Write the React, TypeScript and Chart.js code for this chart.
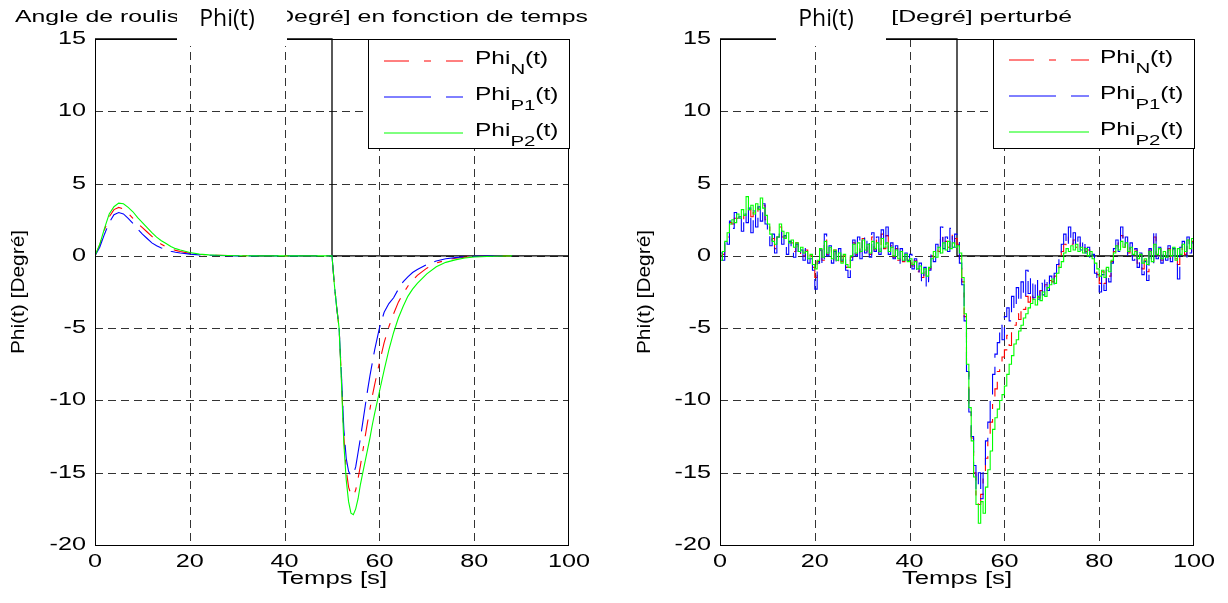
import React, { useEffect, useRef } from "react";
import { Chart, registerables } from "chart.js";

Chart.register(...registerables);

// ---------- DATA ----------
const X_TICKS = [0, 20, 40, 60, 80, 100];
const Y_TICKS = [-20, -15, -10, -5, 0, 5, 10, 15];
const SUBSCRIPTS = ["N", "P1", "P2"];
const X_LABEL = "Temps [s]";
const Y_LABEL = "Phi(t) [Degré]";
const COVER_LABEL = "Phi(t)";
const LEFT_TITLE = ["Angle de roulis Phi(t)", "[Degré] en fonction de temps"];
const RIGHT_TITLE = ["Phi(t) [Degré] perturbé"];

// reference step signal (black)
const REF_T = [0, 50, 50, 100];
const REF_PHI = [15, 15, 0, 0];

// left plot: nominal / perturbed responses
const T_LEFT = [0, 1, 2, 3, 4, 5, 6, 7, 8, 9, 10, 11, 12, 13, 14, 15, 16, 17, 18,
  20, 22, 24, 26, 28, 30, 35, 40, 45, 50,
  50.5, 51, 51.5, 52, 52.5, 53, 53.5, 54, 54.5, 55, 55.5, 56, 56.5, 57, 57.5, 58, 58.5, 59,
  60, 61, 62, 63, 64, 65, 66, 67, 68, 70, 72, 74, 76, 78, 80, 84, 88];
const PHI_N_LEFT = [0, 0.75, 1.8, 2.7, 3.2, 3.35, 3.25, 2.95, 2.6, 2.25, 1.95, 1.65, 1.35, 1.05, 0.8, 0.62, 0.48, 0.38, 0.3,
  0.17, 0.1, 0.06, 0.04, 0.02, 0.01, 0, 0, 0, 0,
  -2.0, -3.6, -5.0, -8.5, -12.5, -14.8, -16.0, -16.5, -16.6, -16.2, -15.4, -14.5, -13.5, -12.5, -11.5, -10.6, -9.7, -8.9,
  -7.4, -6.0, -4.9, -4.0, -3.2, -2.6, -2.1, -1.7, -1.35, -0.85, -0.5, -0.3, -0.17, -0.1, -0.05, -0.02, 0];
const PHI_P1_LEFT = [0, 0.6, 1.5, 2.3, 2.85, 3.0, 2.9, 2.6, 2.25, 1.85, 1.5, 1.2, 0.9, 0.7, 0.55, 0.42, 0.32, 0.25, 0.2,
  0.12, 0.07, 0.04, 0.02, 0.01, 0, 0, 0, 0, 0,
  -2.0, -3.6, -5.0, -8.3, -12.0, -14.0, -14.9, -15.2, -15.1, -14.6, -13.6, -12.6, -11.5, -10.4, -9.3, -8.3, -7.4, -6.5,
  -5.0, -3.9, -3.3, -2.9, -2.3, -1.8, -1.45, -1.15, -0.95, -0.6, -0.35, -0.2, -0.12, -0.06, -0.03, -0.01, 0];
const PHI_P2_LEFT = [0, 0.8, 1.9, 2.9, 3.4, 3.65, 3.6, 3.35, 3.05, 2.65, 2.3, 1.95, 1.6, 1.3, 1.05, 0.85, 0.65, 0.5, 0.4,
  0.23, 0.12, 0.07, 0.04, 0.02, 0.01, 0, 0, 0, 0,
  -2.0, -3.6, -5.0, -8.8, -13.0, -15.5, -17.0, -17.8, -17.9, -17.5, -16.8, -15.8, -15.0, -14.2, -13.4, -12.6, -11.7, -10.9,
  -9.4, -7.9, -6.5, -5.3, -4.3, -3.5, -2.8, -2.3, -1.9, -1.25, -0.75, -0.45, -0.28, -0.15, -0.08, -0.03, 0];

// right plot: perturbed responses (sampled every 0.5 s)
const T_RIGHT = [
  0, 0.5, 1, 1.5, 2, 2.5, 3, 3.5, 4, 4.5, 5, 5.5, 6, 6.5, 7, 7.5, 8, 8.5, 9, 9.5,
  10, 10.5, 11, 11.5, 12, 12.5, 13, 13.5, 14, 14.5, 15, 15.5, 16, 16.5, 17, 17.5, 18, 18.5, 19, 19.5,
  20, 20.5, 21, 21.5, 22, 22.5, 23, 23.5, 24, 24.5, 25, 25.5, 26, 26.5, 27, 27.5, 28, 28.5, 29, 29.5,
  30, 30.5, 31, 31.5, 32, 32.5, 33, 33.5, 34, 34.5, 35, 35.5, 36, 36.5, 37, 37.5, 38, 38.5, 39, 39.5,
  40, 40.5, 41, 41.5, 42, 42.5, 43, 43.5, 44, 44.5, 45, 45.5, 46, 46.5, 47, 47.5, 48, 48.5, 49, 49.5,
  50, 50.5, 51, 51.5, 52, 52.5, 53, 53.5, 54, 54.5, 55, 55.5, 56, 56.5, 57, 57.5, 58, 58.5, 59, 59.5,
  60, 60.5, 61, 61.5, 62, 62.5, 63, 63.5, 64, 64.5, 65, 65.5, 66, 66.5, 67, 67.5, 68, 68.5, 69, 69.5,
  70, 70.5, 71, 71.5, 72, 72.5, 73, 73.5, 74, 74.5, 75, 75.5, 76, 76.5, 77, 77.5, 78, 78.5, 79, 79.5,
  80, 80.5, 81, 81.5, 82, 82.5, 83, 83.5, 84, 84.5, 85, 85.5, 86, 86.5, 87, 87.5, 88, 88.5, 89, 89.5,
  90, 90.5, 91, 91.5, 92, 92.5, 93, 93.5, 94, 94.5, 95, 95.5, 96, 96.5, 97, 97.5, 98, 98.5, 99, 99.5,
  100];
const PHI_N_RIGHT = [
  0.0, 0.1, 1.1, 1.3, 2.3, 2.2, 2.6, 2.6, 2.7, 2.5, 2.9, 3.2, 3.2, 2.7, 3.0, 2.8, 3.3, 3.2, 3.5, 2.5,
  2.0, 1.1, 1.2, 0.5, 1.3, 2.0, 1.3, 1.3, 0.9, 1.0, 0.9, 0.3, 0.9, 0.1, 0.5, 0.0, 0.4, -0.3, 0.0, -0.8,
  -1.5, -0.4, 0.4, -0.3, 1.2, 0.1, 0.6, -0.3, 0.4, -0.4, 0.3, -0.4, 0.0, -0.8, -1.1, -0.1, 0.9, 0.1, 1.1, 0.1,
  1.2, 0.3, 1.0, 0.1, 1.3, 0.4, 1.1, 0.2, 1.5, 0.5, 1.4, 0.2, 0.7, -0.1, 0.5, -0.3, 0.4, -0.4, 0.1, -0.3,
  -0.1, -0.7, -0.3, -1.1, -0.6, -1.5, -0.8, -1.8, -0.9, 0.0, -0.1, 0.4, 0.3, 1.5, 0.7, 1.0, 0.6, 1.5, 0.7, 1.2,
  0.8, -0.2, -1.8, -4.2, -7.8, -10.6, -12.6, -15.0, -16.8, -17.2, -16.5, -15.2, -14.0, -12.8, -11.5, -10.0, -9.2, -8.0, -7.5, -7.0,
  -6.5, -5.5, -6.2, -5.0, -4.8, -4.0, -4.4, -3.5, -3.7, -2.8, -3.2, -2.5, -3.0, -2.6, -2.9, -2.4, -2.6, -2.0, -2.2, -1.7,
  -1.8, -1.4, -0.9, -0.3, 0.3, 0.8, 0.6, 1.3, 0.8, 1.1, 0.6, 1.0, 0.5, 0.7, 0.3, 0.4, -0.1, 0.0, -0.8, -1.3,
  -1.9, -1.1, -1.9, -0.9, -1.4, -0.4, 0.3, 0.9, 0.3, 1.4, 0.6, 1.1, 0.2, 0.7, -0.1, 0.4, -0.5, 0.1, -0.9, -0.3,
  -1.1, 0.4, -0.5, 1.3, 0.0, 0.5, -0.3, 0.3, -0.2, 0.5, -0.2, 0.5, -0.2, -0.6, 0.3, 0.9, 0.1, 1.2, 0.3, 1.0,
  0.9];
const PHI_P1_RIGHT = [
  0.2, -0.3, 1.2, 0.8, 2.4, 1.9, 3.0, 2.2, 2.7, 1.7, 2.9, 2.3, 3.3, 1.6, 3.1, 2.0, 3.4, 2.4, 3.6, 2.2,
  1.7, 0.7, 1.5, 0.2, 1.3, 1.9, 0.8, 1.4, 0.1, 1.0, 0.6, -0.1, 0.8, 0.0, 0.4, -0.3, 0.5, -0.5, -0.2, -1.0,
  -2.3, -0.5, 0.4, -0.6, 1.5, 0.0, 0.7, -0.5, 0.3, -0.6, 0.5, -0.3, 0.0, -1.0, -1.5, -0.3, 1.1, 0.0, 1.3, -0.2,
  1.4, 0.2, 1.2, -0.1, 1.6, 0.3, 1.3, 0.1, 1.8, 0.4, 2.0, 0.1, 0.9, -0.2, 0.7, -0.5, 0.5, -0.6, 0.2, -0.3,
  0.1, -0.9, -0.2, -1.3, -0.5, -1.8, -0.8, -2.2, -1.0, 0.2, -0.4, 0.8, 0.1, 2.0, 0.5, 1.3, 0.3, 1.9, 0.6, 1.5,
  1.0, -0.5, -2.0, -4.5, -8.0, -10.8, -12.5, -14.5, -16.2, -15.0, -16.8, -14.5, -12.8, -11.5, -10.0, -8.2, -6.8, -6.0, -4.8, -5.8,
  -4.2, -3.6, -4.5, -2.8, -3.7, -2.2, -3.2, -1.8, -2.9, -1.0, -2.6, -1.5, -2.9, -1.6, -3.0, -1.9, -2.7, -1.5, -2.4, -1.4,
  -2.0, -1.2, -0.6, 0.1, 0.8, 1.5, 0.7, 2.0, 0.8, 1.6, 0.5, 1.3, 0.4, 1.1, 0.2, 0.6, -0.3, 0.1, -1.2, -1.8,
  -2.5, -1.3, -2.4, -1.0, -1.8, -0.5, 0.5, 1.1, 0.3, 2.0, 0.7, 1.3, 0.0, 0.9, -0.3, 0.5, -0.8, 0.2, -1.3, -0.4,
  -1.7, 0.5, -0.6, 1.8, -0.2, 0.6, -0.5, 0.4, -0.3, 0.7, -0.4, 0.5, -0.2, -1.6, 0.6, 1.0, -0.1, 1.3, 0.2, 0.9,
  1.2];
const PHI_P2_RIGHT = [
  -0.3, 0.3, 1.0, 1.6, 2.2, 2.5, 2.3, 2.9, 2.6, 3.2, 2.8, 4.1, 3.2, 3.5, 2.9, 3.6, 3.2, 4.0, 3.3, 2.8,
  2.2, 1.5, 1.0, 0.8, 1.3, 2.2, 1.7, 1.2, 1.6, 0.9, 1.1, 0.6, 0.9, 0.3, 0.6, 0.2, 0.3, -0.2, 0.1, -0.6,
  -0.9, -0.3, 0.5, -0.1, 1.0, 0.2, 0.6, -0.2, 0.4, -0.3, 0.2, -0.5, 0.1, -0.6, -0.8, 0.0, 0.8, 0.2, 0.9, 0.3,
  1.1, 0.4, 0.8, 0.2, 1.0, 0.5, 0.9, 0.3, 1.2, 0.6, 0.9, 0.3, 0.6, 0.0, 0.4, -0.2, 0.3, -0.3, 0.1, -0.4,
  -0.2, -0.6, -0.4, -0.9, -0.7, -1.2, -0.9, -1.4, -0.8, -0.2, 0.3, -0.1, 0.6, 0.2, 0.9, 0.4, 1.0, 0.5, 0.9, 0.6,
  0.7, 0.2, -1.5, -4.0, -7.5, -10.5, -12.8, -15.3, -17.2, -18.5, -17.0, -17.8, -16.0, -14.8, -13.5, -12.0, -11.2, -10.6, -10.0, -9.6,
  -9.0, -8.2, -7.5, -6.9, -6.1, -5.8, -5.2, -4.8, -4.3, -4.0, -3.6, -3.3, -3.0, -3.4, -2.8, -3.1, -2.5, -2.8, -2.2, -2.0,
  -1.6, -1.9, -1.2, -0.8, -0.4, 0.2, 0.5, 0.3, 0.7, 0.4, 0.8, 0.3, 0.6, 0.2, 0.5, 0.0, 0.3, -0.2, -0.5, -0.9,
  -1.4, -1.0, -1.5, -0.8, -1.1, -0.3, 0.2, 0.7, 0.4, 1.0, 0.6, 0.9, 0.3, 0.6, 0.1, 0.3, -0.2, 0.1, -0.5, -0.2,
  -0.6, 0.3, -0.4, 0.8, 0.1, 0.5, -0.2, 0.3, -0.1, 0.4, 0.0, 0.6, -0.3, 0.5, 0.1, 0.8, 0.3, 1.1, 0.5, 1.2,
  0.7];

// ---------- STYLE ----------
const FONT = '"Liberation Sans", Arial, Helvetica, sans-serif';
const COVER_FONT = '"Open Sans", "Noto Sans", sans-serif';
const COLORS = ["#ff0000", "#0000ff", "#00ff00"];
const DATA_DASH = [[17, 10, 5, 10], [30, 9], []];
const LEGEND_DASH = [[25, 15, 7, 15], [47, 15], []];

type Align = "left" | "center" | "right";

function drawText(
  ctx: CanvasRenderingContext2D, s: string, x: number, y: number, size: number, sx: number,
  align: Align, font: string = FONT, baseline: CanvasTextBaseline = "alphabetic"
): number {
  ctx.save();
  ctx.font = `${size}px ${font}`;
  ctx.textBaseline = baseline;
  ctx.textAlign = "left";
  const w = ctx.measureText(s).width * sx;
  const x0 = align === "left" ? x : align === "center" ? x - w / 2 : x - w;
  ctx.translate(x0, y);
  ctx.scale(sx, 1);
  ctx.fillStyle = "#000";
  ctx.fillText(s, 0, 0);
  ctx.restore();
  return w;
}

type PanelSpec = {
  t: number[];
  series: number[][];
  stepped: boolean;
  pad: { left: number; right: number; top: number; bottom: number };
  titles: { text: string; x: number; align: Align }[];
  cover: { x0: number; x1: number; textX: number };
  legend: { x0: number; x1: number; y1: number; lineX0: number; lineX1: number; textX: number; base: number[]; line: number[] };
  yLabelX: number;
};

function makeDecor(p: PanelSpec) {
  return {
    id: "decor",
    beforeDatasetsDraw(chart: any) {
      const ctx: CanvasRenderingContext2D = chart.ctx;
      const a = chart.chartArea;
      const xs = chart.scales.x;
      const ys = chart.scales.y;
      ctx.save();
      ctx.strokeStyle = "rgba(0,0,0,0.8)";
      ctx.lineWidth = 1;
      ctx.setLineDash([8, 5]);
      X_TICKS.slice(1, -1).forEach((v) => {
        const px = Math.round(xs.getPixelForValue(v)) + 0.5;
        ctx.beginPath();
        ctx.moveTo(px, a.top);
        ctx.lineTo(px, a.bottom);
        ctx.stroke();
      });
      Y_TICKS.slice(1, -1).forEach((v) => {
        const py = Math.round(ys.getPixelForValue(v)) + 0.5;
        ctx.beginPath();
        ctx.moveTo(a.left, py);
        ctx.lineTo(a.right, py);
        ctx.stroke();
      });
      ctx.restore();
    },
    afterDraw(chart: any) {
      const ctx: CanvasRenderingContext2D = chart.ctx;
      const a = chart.chartArea;
      const xs = chart.scales.x;
      const ys = chart.scales.y;
      // axes box
      ctx.save();
      ctx.strokeStyle = "#000";
      ctx.lineWidth = 1;
      ctx.setLineDash([]);
      ctx.strokeRect(Math.round(a.left) + 0.5, Math.round(a.top) + 0.5, Math.round(a.right - a.left) - 1, Math.round(a.bottom - a.top));
      ctx.restore();

      // legend
      const L = p.legend;
      ctx.save();
      ctx.fillStyle = "#fff";
      ctx.fillRect(L.x0, a.top, L.x1 - L.x0, L.y1 - a.top);
      ctx.strokeStyle = "#000";
      ctx.lineWidth = 1;
      ctx.strokeRect(L.x0 + 0.5, Math.round(a.top) + 0.5, L.x1 - L.x0 - 1, L.y1 - Math.round(a.top) - 1);
      SUBSCRIPTS.forEach((sub, i) => {
        ctx.save();
        ctx.strokeStyle = COLORS[i];
        ctx.lineWidth = 1;
        ctx.setLineDash(LEGEND_DASH[i]);
        ctx.beginPath();
        ctx.moveTo(L.lineX0, L.line[i]);
        ctx.lineTo(L.lineX1, L.line[i]);
        ctx.stroke();
        ctx.restore();
        const w1 = drawText(ctx, "Phi", L.textX, L.base[i], 18, 1.36, "left");
        const w2 = drawText(ctx, sub, L.textX + w1, L.base[i] + 10, 15, 1.36, "left");
        drawText(ctx, "(t)", L.textX + w1 + w2, L.base[i], 18, 1.36, "left");
      });
      ctx.restore();

      // tick labels
      X_TICKS.forEach((v) => {
        drawText(ctx, String(v), xs.getPixelForValue(v), 567, 18, 1.4, "center");
      });
      Y_TICKS.forEach((v) => {
        drawText(ctx, String(v), a.left - 9, ys.getPixelForValue(v), 18, 1.4, "right", FONT, "middle");
      });

      // axis titles
      drawText(ctx, X_LABEL, (a.left + a.right) / 2, 584, 18, 1.43, "center");
      ctx.save();
      ctx.translate(p.yLabelX, (a.top + a.bottom) / 2);
      ctx.rotate(-Math.PI / 2);
      drawText(ctx, Y_LABEL, 0, 0, 18, 1.16, "center");
      ctx.restore();

      // titles
      p.titles.forEach((t) => drawText(ctx, t.text, t.x, 22, 17, 1.46, t.align));

      // white cover with label
      ctx.save();
      ctx.fillStyle = "#fff";
      ctx.fillRect(p.cover.x0, 0, p.cover.x1 - p.cover.x0, 46);
      ctx.restore();
      drawText(ctx, COVER_LABEL, p.cover.textX, 26, 23, 1.0, "center", COVER_FONT);
    },
  };
}

function PlotPanel({ spec, left }: { spec: PanelSpec; left: number }) {
  const ref = useRef<HTMLCanvasElement | null>(null);
  useEffect(() => {
    if (!ref.current) return;
    const mk = (ys: number[]) => spec.t.map((t, i) => ({ x: t, y: ys[i] }));
    const order = [2, 1, 0]; // P2 on top, then P1, then N
    const datasets: any[] = order.map((k) => ({
      data: mk(spec.series[k]),
      borderColor: COLORS[k],
      borderWidth: 1.1,
      borderDash: DATA_DASH[k],
      pointRadius: 0,
      tension: 0,
      fill: false,
      stepped: spec.stepped,
    }));
    datasets.push({
      data: REF_T.map((t, i) => ({ x: t, y: REF_PHI[i] })),
      borderColor: "#000",
      borderWidth: 1.3,
      pointRadius: 0,
      tension: 0,
      fill: false,
      clip: 4,
    });
    const chart = new Chart(ref.current, {
      type: "line",
      data: { datasets },
      options: {
        responsive: false,
        animation: false,
        events: [],
        layout: { padding: spec.pad },
        plugins: { legend: { display: false }, tooltip: { enabled: false }, title: { display: false } },
        scales: {
          x: { type: "linear", min: 0, max: 100, display: false },
          y: { type: "linear", min: -20, max: 15, display: false },
        },
      },
      plugins: [makeDecor(spec)],
    } as any);
    return () => chart.destroy();
  }, [spec]);
  return (
    <canvas
      ref={ref}
      width={614}
      height={603}
      style={{ position: "absolute", left, top: 0, width: 614, height: 603 }}
    />
  );
}

const LEFT_SPEC: PanelSpec = {
  t: T_LEFT,
  series: [PHI_N_LEFT, PHI_P1_LEFT, PHI_P2_LEFT],
  stepped: false,
  pad: { left: 95, right: 45, top: 39, bottom: 58 },
  titles: [
    { text: LEFT_TITLE[0], x: 15, align: "left" },
    { text: LEFT_TITLE[1], x: 588, align: "right" },
  ],
  cover: { x0: 177, x1: 287, textX: 227 },
  legend: { x0: 368, x1: 570, y1: 149, lineX0: 384, lineX1: 463, textX: 475, base: [64, 100, 136], line: [61, 97, 133] },
  yLabelX: 24,
};

const RIGHT_SPEC: PanelSpec = {
  t: T_RIGHT,
  series: [PHI_N_RIGHT, PHI_P1_RIGHT, PHI_P2_RIGHT],
  stepped: true,
  pad: { left: 106, right: 34, top: 39, bottom: 58 },
  titles: [{ text: RIGHT_TITLE[0], x: 458, align: "right" }],
  cover: { x0: 162, x1: 272, textX: 212 },
  legend: { x0: 379, x1: 581, y1: 149, lineX0: 395, lineX1: 475, textX: 486, base: [63, 99, 135], line: [60, 96, 132] },
  yLabelX: 36,
};

export default function App() {
  return (
    <div style={{ position: "absolute", left: 0, top: 0, width: 1228, height: 603, background: "#fff", overflow: "hidden" }}>
      <PlotPanel spec={LEFT_SPEC} left={0} />
      <PlotPanel spec={RIGHT_SPEC} left={614} />
    </div>
  );
}
